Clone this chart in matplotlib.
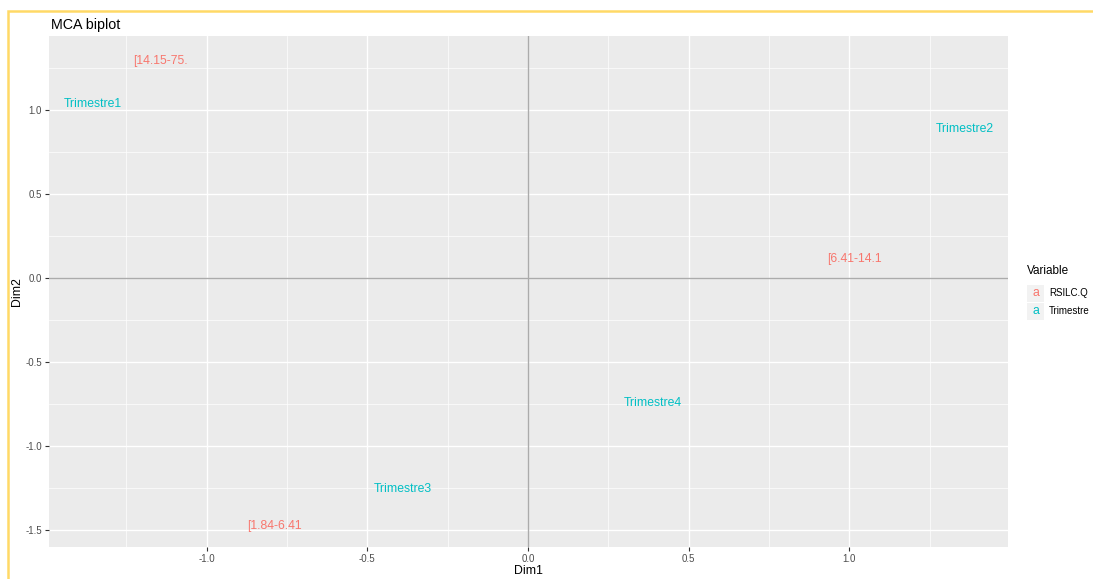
import matplotlib.pyplot as plt
from matplotlib.patches import Rectangle
from matplotlib.ticker import MultipleLocator

plt.rcParams['font.family'] = ['Liberation Sans', 'DejaVu Sans']

# MCA category coordinates
labels = ["[14.15-75.", "[6.41-14.1", "[1.84-6.41",
          "Trimestre1", "Trimestre2", "Trimestre3", "Trimestre4"]
dim1 = [-1.145, 1.016, -0.790, -1.355, 1.358, -0.389, 0.389]
dim2 = [1.302, 0.125, -1.463, 1.048, 0.899, -1.244, -0.732]
variable = ["RSILC.Q", "RSILC.Q", "RSILC.Q",
            "Trimestre", "Trimestre", "Trimestre", "Trimestre"]
groups = ["RSILC.Q", "Trimestre"]
colors = {"RSILC.Q": "#F8766D", "Trimestre": "#00BFC4"}

W, H = 1093, 579
fig = plt.figure(figsize=(W / 100, H / 100), dpi=100, facecolor="white")
ax = fig.add_axes([49 / W, 1 - 547 / H, 959 / W, 511 / H])
ax.set_facecolor("#EBEBEB")

for lab, x, y, v in zip(labels, dim1, dim2, variable):
    ax.text(x, y - 0.012, lab, color=colors[v], fontsize=8.8, ha="center", va="center")

ax.axhline(0, color="#ABABAB", lw=1.0, zorder=1)
ax.axvline(0, color="#ABABAB", lw=1.0, zorder=1)

xr = max(dim1) - min(dim1)
yr = max(dim2) - min(dim2)
ax.set_xlim(min(dim1) - 0.05 * xr, max(dim1) + 0.05 * xr)
ax.set_ylim(min(dim2) - 0.05 * yr, max(dim2) + 0.05 * yr)

ax.xaxis.set_major_locator(MultipleLocator(0.5))
ax.yaxis.set_major_locator(MultipleLocator(0.5))
ax.xaxis.set_minor_locator(MultipleLocator(0.25))
ax.yaxis.set_minor_locator(MultipleLocator(0.25))
ax.grid(True, which="major", color="white", lw=1.0, zorder=0)
ax.grid(True, which="minor", color="white", lw=0.5, zorder=0)
ax.set_axisbelow(True)
for s in ax.spines.values():
    s.set_visible(False)
ax.tick_params(which="major", length=3, color="#333333", labelsize=7, labelcolor="#4D4D4D", pad=2)
ax.tick_params(which="minor", length=0)
ax.xaxis.set_major_formatter(plt.FuncFormatter(lambda v, p: "%.1f" % v))
ax.yaxis.set_major_formatter(plt.FuncFormatter(lambda v, p: "%.1f" % v))

ax.set_xlabel("Dim1", fontsize=8.8, labelpad=1)
ax.set_ylabel("Dim2", fontsize=8.8, labelpad=2)
fig.text(51 / W, 1 - 25 / H, "MCA biplot", fontsize=10.3, va="center", ha="left")

# legend drawn by hand (ggplot style)
fig.text(1027 / W, 1 - 271 / H, "Variable", fontsize=8.5, va="center", ha="left")
for i, g in enumerate(groups):
    yc = 293 + 18 * i
    fig.patches.append(Rectangle((1027 / W, 1 - (yc + 8.5) / H), 17 / W, 17 / H,
                                 transform=fig.transFigure, facecolor="#F2F2F2",
                                 edgecolor="none"))
    fig.text(1035.5 / W, 1 - yc / H, "a", color=colors[g], fontsize=8.8,
             va="center", ha="center")
    fig.text(1049 / W, 1 - yc / H, g, fontsize=7, va="center", ha="left")

# yellow screenshot frame
fig.patches.append(Rectangle((8 / W, -0.1), 1.2, 1 - 11 / H + 0.1,
                             transform=fig.transFigure, facecolor="none",
                             edgecolor="#FFD966", lw=1.8))

fig.savefig("out.png", dpi=100, facecolor="white")
